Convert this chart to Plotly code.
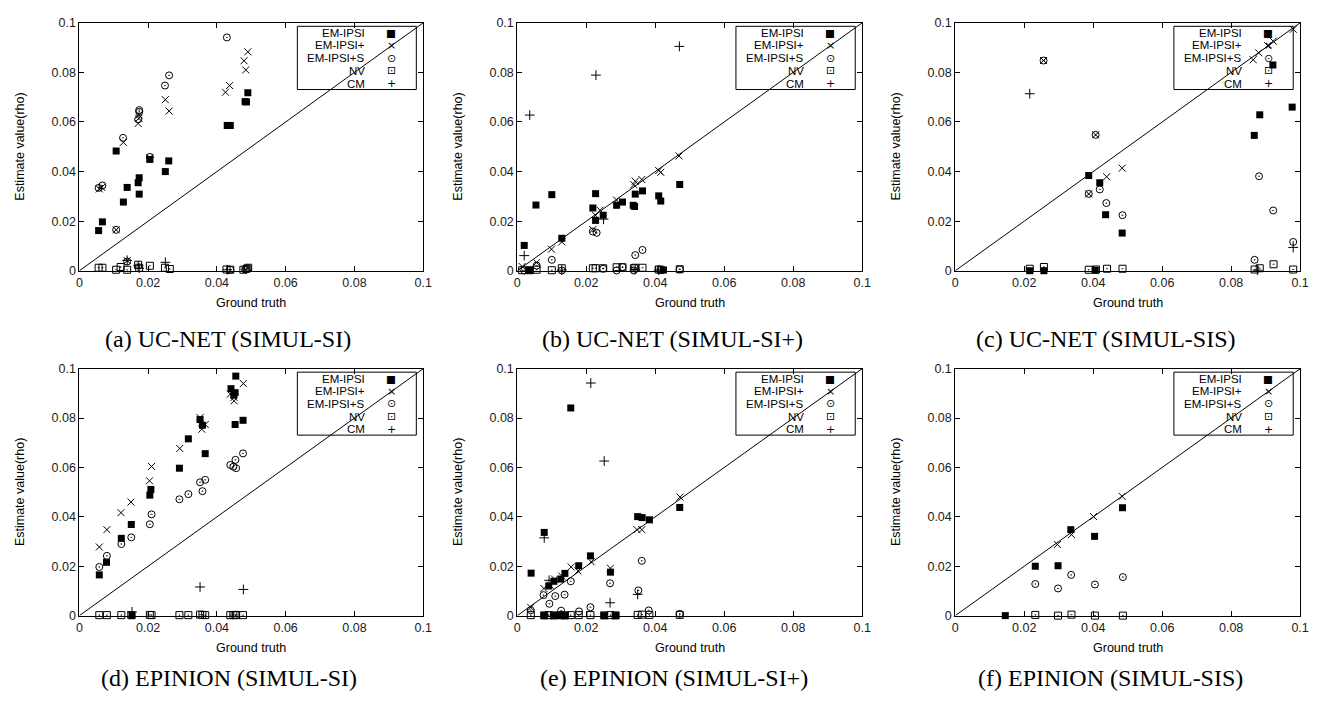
import plotly.graph_objects as go

# ---------------- data (ground truth x, estimated rho y) ----------------
TICK_VALUES = [0, 0.02, 0.04, 0.06, 0.08, 0.1]
TICK_LABELS = ["0", "0.02", "0.04", "0.06", "0.08", "0.1"]
AXIS_RANGE = [0, 0.1]
SERIES_NAMES = ["EM-IPSI", "EM-IPSI+", "EM-IPSI+S", "NV", "CM"]
CAPTIONS = ["(a) UC-NET (SIMUL-SI)", "(b) UC-NET (SIMUL-SI+)", "(c) UC-NET (SIMUL-SIS)",
            "(d) EPINION (SIMUL-SI)", "(e) EPINION (SIMUL-SI+)", "(f) EPINION (SIMUL-SIS)"]
X_TITLE = "Ground truth"
Y_TITLE = "Estimate value(rho)"

# (a) UC-NET SIMUL-SI
a_ipsi_x = [0.0056, 0.0067, 0.0107, 0.0128, 0.0139, 0.0171, 0.0174, 0.0174, 0.0205, 0.0250, 0.0260, 0.0430, 0.0439, 0.0482, 0.0486, 0.0490]
a_ipsi_y = [0.0162, 0.0197, 0.0483, 0.0277, 0.0336, 0.0355, 0.0375, 0.0309, 0.0449, 0.0400, 0.0443, 0.0586, 0.0586, 0.0682, 0.0681, 0.0718]
a_plus_x = [0.0058, 0.0065, 0.0107, 0.0128, 0.0139, 0.0171, 0.0173, 0.0174, 0.0205, 0.0250, 0.0261, 0.0425, 0.0437, 0.0479, 0.0484, 0.0490]
a_plus_y = [0.0330, 0.0336, 0.0165, 0.0518, 0.0041, 0.0594, 0.0615, 0.0628, 0.0456, 0.0690, 0.0644, 0.0720, 0.0747, 0.0847, 0.0810, 0.0883]
a_s_x = [0.0056, 0.0067, 0.0107, 0.0127, 0.0139, 0.0171, 0.0174, 0.0174, 0.0205, 0.0249, 0.0261, 0.0429, 0.0439, 0.0482, 0.0486, 0.0490]
a_s_y = [0.0334, 0.0344, 0.0165, 0.0536, 0.0037, 0.0611, 0.0641, 0.0648, 0.0459, 0.0747, 0.0788, 0.0941, 0.0004, 0.0005, 0.0006, 0.0010]
a_nv_x = [0.0056, 0.0067, 0.0107, 0.0120, 0.0139, 0.0171, 0.0174, 0.0205, 0.0249, 0.0263, 0.0428, 0.0439, 0.0477, 0.0486, 0.0491]
a_nv_y = [0.0012, 0.0012, 0.0004, 0.0015, 0.0004, 0.0024, 0.0012, 0.0020, 0.0012, 0.0007, 0.0005, 0.0004, 0.0004, 0.0008, 0.0012]
a_cm_x = [0.0139, 0.0171, 0.0250, 0.0174, 0.0430]
a_cm_y = [0.0042, 0.0020, 0.0034, 0.0010, 0.0004]

# (b) UC-NET SIMUL-SI+
b_ipsi_x = [0.0020, 0.0036, 0.0054, 0.0100, 0.0129, 0.0219, 0.0227, 0.0227, 0.0249, 0.0288, 0.0305, 0.0336, 0.0340, 0.0342, 0.0363, 0.0410, 0.0416, 0.0424, 0.0471]
b_ipsi_y = [0.0102, 0.0002, 0.0265, 0.0307, 0.0131, 0.0253, 0.0311, 0.0203, 0.0224, 0.0264, 0.0277, 0.0264, 0.0259, 0.0309, 0.0322, 0.0302, 0.0281, 0.0003, 0.0348]
b_plus_x = [0.0014, 0.0056, 0.0099, 0.0129, 0.0219, 0.0227, 0.0240, 0.0288, 0.0338, 0.0342, 0.0361, 0.0410, 0.0416, 0.0469]
b_plus_y = [0.0017, 0.0033, 0.0087, 0.0116, 0.0166, 0.0223, 0.0244, 0.0285, 0.0347, 0.0361, 0.0368, 0.0404, 0.0397, 0.0463]
b_s_x = [0.0020, 0.0056, 0.0100, 0.0129, 0.0219, 0.0230, 0.0249, 0.0288, 0.0305, 0.0338, 0.0342, 0.0363, 0.0416, 0.0471]
b_s_y = [0.0001, 0.0021, 0.0044, 0.0001, 0.0158, 0.0153, 0.0008, 0.0001, 0.0015, 0.0001, 0.0063, 0.0084, 0.0003, 0.0005]
b_nv_x = [0.0014, 0.0036, 0.0056, 0.0100, 0.0129, 0.0219, 0.0227, 0.0249, 0.0288, 0.0305, 0.0338, 0.0342, 0.0363, 0.0410, 0.0416, 0.0471]
b_nv_y = [0.0002, 0.0002, 0.0004, 0.0002, 0.0010, 0.0010, 0.0010, 0.0010, 0.0014, 0.0014, 0.0010, 0.0012, 0.0012, 0.0005, 0.0004, 0.0006]
b_cm_x = [0.0020, 0.0036, 0.0129, 0.0228, 0.0250, 0.0470, 0.0342, 0.0410]
b_cm_y = [0.0061, 0.0628, 0.0003, 0.0789, 0.0208, 0.0905, 0.0005, 0.0003]

# (c) UC-NET SIMUL-SIS
c_ipsi_x = [0.0216, 0.0257, 0.0387, 0.0406, 0.0419, 0.0436, 0.0484, 0.0867, 0.0883, 0.0921, 0.0977]
c_ipsi_y = [0.0000, 0.0000, 0.0384, 0.0002, 0.0355, 0.0226, 0.0152, 0.0546, 0.0629, 0.0830, 0.0660]
c_plus_x = [0.0256, 0.0387, 0.0407, 0.0439, 0.0484, 0.0864, 0.0880, 0.0906, 0.0922, 0.0980]
c_plus_y = [0.0848, 0.0310, 0.0548, 0.0379, 0.0414, 0.0851, 0.0879, 0.0908, 0.0926, 0.0974]
c_s_x = [0.0256, 0.0387, 0.0407, 0.0419, 0.0438, 0.0485, 0.0868, 0.0881, 0.0922, 0.0980]
c_s_y = [0.0848, 0.0310, 0.0548, 0.0328, 0.0273, 0.0224, 0.0044, 0.0381, 0.0243, 0.0116]
c_nv_x = [0.0216, 0.0257, 0.0387, 0.0408, 0.0440, 0.0485, 0.0868, 0.0883, 0.0923, 0.0980]
c_nv_y = [0.0008, 0.0015, 0.0004, 0.0005, 0.0008, 0.0008, 0.0005, 0.0010, 0.0026, 0.0005]
c_cm_x = [0.0216, 0.0877, 0.0980]
c_cm_y = [0.0714, 0.0002, 0.0094]

# (d) EPINION SIMUL-SI
d_ipsi_x = [0.0058, 0.0079, 0.0122, 0.0151, 0.0153, 0.0205, 0.0208, 0.0291, 0.0317, 0.0351, 0.0358, 0.0366, 0.0441, 0.0449, 0.0453, 0.0455, 0.0453, 0.0476]
d_ipsi_y = [0.0165, 0.0216, 0.0313, 0.0369, 0.0000, 0.0488, 0.0511, 0.0597, 0.0716, 0.0794, 0.0771, 0.0656, 0.0919, 0.0893, 0.0903, 0.0970, 0.0774, 0.0791]
d_plus_x = [0.0058, 0.0080, 0.0121, 0.0150, 0.0204, 0.0210, 0.0292, 0.0351, 0.0356, 0.0366, 0.0439, 0.0450, 0.0450, 0.0477]
d_plus_y = [0.0278, 0.0348, 0.0417, 0.0460, 0.0546, 0.0604, 0.0677, 0.0802, 0.0755, 0.0774, 0.0897, 0.0870, 0.0884, 0.0940]
d_s_x = [0.0058, 0.0080, 0.0122, 0.0151, 0.0205, 0.0210, 0.0291, 0.0317, 0.0351, 0.0358, 0.0366, 0.0439, 0.0448, 0.0454, 0.0456, 0.0476]
d_s_y = [0.0197, 0.0242, 0.0290, 0.0317, 0.0370, 0.0410, 0.0471, 0.0492, 0.0540, 0.0504, 0.0550, 0.0610, 0.0603, 0.0631, 0.0597, 0.0657]
d_nv_x = [0.0058, 0.0080, 0.0122, 0.0151, 0.0205, 0.0210, 0.0291, 0.0317, 0.0351, 0.0358, 0.0366, 0.0439, 0.0448, 0.0454, 0.0456, 0.0476]
d_nv_y = [0.0002, 0.0002, 0.0002, 0.0002, 0.0003, 0.0002, 0.0002, 0.0002, 0.0004, 0.0003, 0.0002, 0.0002, 0.0002, 0.0003, 0.0002, 0.0002]
d_cm_x = [0.0153, 0.0351, 0.0477]
d_cm_y = [0.0015, 0.0116, 0.0106]

# (e) EPINION SIMUL-SI+
e_ipsi_x = [0.0040, 0.0078, 0.0078, 0.0091, 0.0106, 0.0106, 0.0126, 0.0126, 0.0138, 0.0138, 0.0155, 0.0178, 0.0212, 0.0252, 0.0270, 0.0285, 0.0349, 0.0362, 0.0383, 0.0471]
e_ipsi_y = [0.0172, 0.0337, 0.0000, 0.0120, 0.0139, 0.0000, 0.0148, 0.0000, 0.0171, 0.0000, 0.0841, 0.0202, 0.0242, 0.0000, 0.0176, 0.0000, 0.0401, 0.0397, 0.0388, 0.0438]
e_plus_x = [0.0039, 0.0077, 0.0095, 0.0108, 0.0129, 0.0156, 0.0176, 0.0214, 0.0270, 0.0347, 0.0361, 0.0382, 0.0472]
e_plus_y = [0.0033, 0.0110, 0.0123, 0.0148, 0.0160, 0.0197, 0.0181, 0.0218, 0.0192, 0.0348, 0.0348, 0.0388, 0.0480]
e_s_x = [0.0039, 0.0076, 0.0093, 0.0110, 0.0127, 0.0137, 0.0155, 0.0179, 0.0212, 0.0269, 0.0351, 0.0361, 0.0381, 0.0471]
e_s_y = [0.0022, 0.0083, 0.0048, 0.0079, 0.0020, 0.0085, 0.0139, 0.0017, 0.0034, 0.0131, 0.0102, 0.0222, 0.0021, 0.0007]
e_nv_x = [0.0039, 0.0078, 0.0091, 0.0106, 0.0126, 0.0138, 0.0155, 0.0178, 0.0212, 0.0252, 0.0270, 0.0285, 0.0349, 0.0362, 0.0383, 0.0471]
e_nv_y = [0.0002, 0.0001, 0.0002, 0.0001, 0.0002, 0.0001, 0.0002, 0.0002, 0.0002, 0.0001, 0.0002, 0.0001, 0.0003, 0.0004, 0.0003, 0.0003]
e_cm_x = [0.0078, 0.0092, 0.0213, 0.0252, 0.0269, 0.0349]
e_cm_y = [0.0315, 0.0143, 0.0942, 0.0626, 0.0052, 0.0086]

# (f) EPINION SIMUL-SIS
f_ipsi_x = [0.0145, 0.0232, 0.0298, 0.0335, 0.0404, 0.0485]
f_ipsi_y = [0.0000, 0.0200, 0.0202, 0.0348, 0.0321, 0.0437]
f_plus_x = [0.0296, 0.0337, 0.0401, 0.0484]
f_plus_y = [0.0288, 0.0328, 0.0401, 0.0483]
f_s_x = [0.0232, 0.0298, 0.0336, 0.0405, 0.0486]
f_s_y = [0.0128, 0.0110, 0.0165, 0.0126, 0.0156]
f_nv_x = [0.0232, 0.0298, 0.0337, 0.0405, 0.0486]
f_nv_y = [0.0003, 0.0000, 0.0004, 0.0000, 0.0000]
f_cm_x = []
f_cm_y = []

PANELS = [
    [(a_ipsi_x, a_ipsi_y), (a_plus_x, a_plus_y), (a_s_x, a_s_y), (a_nv_x, a_nv_y), (a_cm_x, a_cm_y)],
    [(b_ipsi_x, b_ipsi_y), (b_plus_x, b_plus_y), (b_s_x, b_s_y), (b_nv_x, b_nv_y), (b_cm_x, b_cm_y)],
    [(c_ipsi_x, c_ipsi_y), (c_plus_x, c_plus_y), (c_s_x, c_s_y), (c_nv_x, c_nv_y), (c_cm_x, c_cm_y)],
    [(d_ipsi_x, d_ipsi_y), (d_plus_x, d_plus_y), (d_s_x, d_s_y), (d_nv_x, d_nv_y), (d_cm_x, d_cm_y)],
    [(e_ipsi_x, e_ipsi_y), (e_plus_x, e_plus_y), (e_s_x, e_s_y), (e_nv_x, e_nv_y), (e_cm_x, e_cm_y)],
    [(f_ipsi_x, f_ipsi_y), (f_plus_x, f_plus_y), (f_s_x, f_s_y), (f_nv_x, f_nv_y), (f_cm_x, f_cm_y)],
]

# ---------------- styling / layout ----------------
PAGE_OFFSET = 8            # default body margin of the html page
W, H = 1320 - PAGE_OFFSET, 701 - PAGE_OFFSET
SANS = "Liberation Sans, Arial, sans-serif"
SERIF = "Liberation Serif, Times New Roman, serif"
MARKERS = [
    dict(symbol="square", size=7, color="black", line=dict(width=0)),
    dict(symbol="x-thin-open", size=7, color="black", line=dict(width=1, color="black")),
    dict(symbol="circle-open-dot", size=7, color="black", line=dict(width=1, color="black")),
    dict(symbol="square-open-dot", size=7, color="black", line=dict(width=1, color="black")),
    dict(symbol="cross-thin-open", size=7, color="black", line=dict(width=1, color="black")),
]
LEGEND_GLYPHS = ["\u25A0", "\u00D7", "\u2299", "\u22A1", "+"]
LEGEND_GLYPH_SIZES = [10.5, 11, 11, 11, 11]
LEGEND_ROW_Y = [0.960, 0.909, 0.858, 0.806, 0.754]

# page-pixel positions of plot areas and captions
COLS = [(77, 424), (519, 867), (961, 1309)]
ROWS = [(16, 269), (369, 621)]
CAPTION_LEFT = [101, 542, 980, 97, 540, 982]
CAPTION_Y = [339, 685]


def px_x(p):
    return (p - PAGE_OFFSET) / W


def px_y(p):
    return 1 - (p - PAGE_OFFSET) / H


fig = go.Figure()
annotations = []
shapes = []
layout_axes = {}

for i, series in enumerate(PANELS):
    r, c = divmod(i, 3)
    (xl, xr), (yt, yb) = COLS[c], ROWS[r]
    suffix = "" if i == 0 else str(i + 1)
    xa, ya = "x" + suffix, "y" + suffix

    axis_common = dict(
        range=AXIS_RANGE, tickvals=TICK_VALUES, ticktext=TICK_LABELS,
        ticks="inside", ticklen=5, tickwidth=1, tickcolor="black",
        showline=True, linecolor="black", linewidth=1, mirror="ticks",
        showgrid=False, zeroline=False, fixedrange=True,
        tickfont=dict(family=SANS, size=12.5, color="#1a1a1a"),
    )
    layout_axes["xaxis" + suffix] = dict(axis_common, domain=[px_x(xl), px_x(xr)], anchor=ya)
    layout_axes["yaxis" + suffix] = dict(axis_common, domain=[px_y(yb), px_y(yt)], anchor=xa)

    # y = x reference line across the axis range
    fig.add_trace(go.Scatter(x=AXIS_RANGE, y=AXIS_RANGE, mode="lines", xaxis=xa, yaxis=ya,
                             line=dict(color="black", width=1), showlegend=False, hoverinfo="skip"))
    for k, (xs, ys) in enumerate(series):
        fig.add_trace(go.Scatter(x=xs, y=ys, mode="markers", name=SERIES_NAMES[k], xaxis=xa, yaxis=ya,
                                 marker=MARKERS[k], showlegend=False, cliponaxis=False))

    # legend box (gnuplot style: text right-aligned, key symbol at right)
    shapes.append(dict(type="rect", xref=xa + " domain", yref=ya + " domain",
                       x0=0.634, x1=0.980, y0=0.731, y1=0.986,
                       line=dict(color="black", width=1), fillcolor="rgba(0,0,0,0)", layer="below"))
    for k, name in enumerate(SERIES_NAMES):
        annotations.append(dict(text=name, xref=xa + " domain", yref=ya + " domain",
                                x=0.833, y=LEGEND_ROW_Y[k], xanchor="right", yanchor="middle",
                                showarrow=False, borderpad=0,
                                font=dict(family=SANS, size=11.5, color="black")))
        annotations.append(dict(text=LEGEND_GLYPHS[k], xref=xa + " domain", yref=ya + " domain",
                                x=0.907, y=LEGEND_ROW_Y[k], xanchor="center", yanchor="middle",
                                showarrow=False, borderpad=0,
                                font=dict(family="DejaVu Sans", size=LEGEND_GLYPH_SIZES[k], color="black")))

    # axis titles
    annotations.append(dict(text=X_TITLE, xref="paper", yref="paper",
                            x=px_x((xl + xr) / 2), y=px_y(yb + 33), xanchor="center", yanchor="middle",
                            showarrow=False, font=dict(family=SANS, size=12.5, color="black")))
    annotations.append(dict(text=Y_TITLE, xref="paper", yref="paper", textangle=-90,
                            x=px_x(xl - 60), y=px_y((yt + yb) / 2), xanchor="center", yanchor="middle",
                            showarrow=False, font=dict(family=SANS, size=12.5, color="black")))
    # caption
    annotations.append(dict(text=CAPTIONS[i], xref="paper", yref="paper",
                            x=px_x(CAPTION_LEFT[i]), y=px_y(CAPTION_Y[r]), xanchor="left", yanchor="middle",
                            showarrow=False, font=dict(family=SERIF, size=24, color="black")))

fig.update_layout(
    width=W, height=H, margin=dict(l=0, r=0, t=0, b=0),
    paper_bgcolor="white", plot_bgcolor="white",
    showlegend=False, annotations=annotations, shapes=shapes,
    **layout_axes,
)

fig.write_html("out.html")
